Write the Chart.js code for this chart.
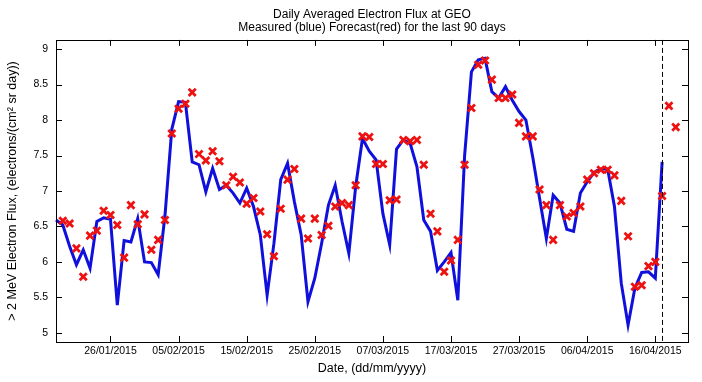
<!DOCTYPE html>
<html>
<head>
<meta charset="utf-8">
<script src="https://cdn.jsdelivr.net/npm/chart.js@4.4.0/dist/chart.umd.min.js"></script>
<style>
  html, body { margin: 0; padding: 0; background: #fff; }
</style>
</head>
<body>
<canvas id="flux" width="702" height="382"></canvas>
<script>
// day 0 = 18/01/2015, one value per day
const startDate = new Date(2015, 0, 18);

const measured = [
  6.59, 6.52, 6.22, 5.96, 6.17, 5.91, 6.57, 6.62, 6.60, 5.39,
  6.30, 6.28, 6.61, 6.00, 5.99, 5.82, 6.65, 7.87, 8.26, 8.25,
  7.41, 7.37, 6.99, 7.32, 7.02, 7.08, 6.97, 6.83, 7.04, 6.78,
  6.38, 5.53, 6.26, 7.16, 7.39, 6.85, 6.38, 5.44, 5.77, 6.26,
  6.80, 7.08, 6.57, 6.12, 7.06, 7.74, 7.56, 7.44, 6.68, 6.24,
  7.59, 7.72, 7.67, 7.34, 6.59, 6.43, 5.88, 6.00, 6.13, 5.46,
  7.50, 8.68, 8.85, 8.87, 8.40, 8.31, 8.47, 8.28, 8.12, 8.00,
  7.48, 6.90, 6.33, 6.94, 6.83, 6.46, 6.43, 6.97, 7.13, 7.26,
  7.31, 7.31, 6.78, 5.70, 5.11, 5.63, 5.85, 5.86, 5.77, 7.41
];

const forecast = [
  null, 6.58, 6.54, 6.19, 5.79, 6.37, 6.44, 6.72, 6.66, 6.52,
  6.06, 6.80, 6.53, 6.67, 6.17, 6.31, 6.59, 7.81, 8.16, 8.23,
  8.39, 7.52, 7.43, 7.56, 7.42, 7.08, 7.20, 7.12, 6.82, 6.90,
  6.71, 6.39, 6.08, 6.75, 7.16, 7.31, 6.61, 6.33, 6.61, 6.38,
  6.51, 6.78, 6.83, 6.80, 7.08, 7.77, 7.76, 7.38, 7.38, 6.87,
  6.88, 7.72, 7.70, 7.72, 7.37, 6.68, 6.43, 5.86, 6.02, 6.31,
  7.37, 8.17, 8.78, 8.84, 8.57, 8.31, 8.31, 8.36, 7.96, 7.77,
  7.77, 7.02, 6.80, 6.31, 6.80, 6.64, 6.69, 6.78, 7.16, 7.25,
  7.30, 7.30, 7.22, 6.86, 6.36, 5.65, 5.67, 5.94, 6.00, 6.93,
  8.20, 7.90
];

const tickDates = [
  '26/01/2015', '05/02/2015', '15/02/2015', '25/02/2015', '07/03/2015',
  '17/03/2015', '27/03/2015', '06/04/2015', '16/04/2015'
];
const yTicks = [5, 5.5, 6, 6.5, 7, 7.5, 8, 8.5, 9];

// last measured day, marked with a dashed line
const todayDay = measured.length - 1;

function dayOf(s) {
  const [d, m, y] = s.split('/').map(Number);
  return Math.round((new Date(y, m - 1, d) - startDate) / 86400000);
}
const tickDays = tickDates.map(dayOf);

const toPoints = arr => arr.map((v, i) => ({ x: i, y: v })).filter(p => p.y !== null);

// box frame, inward tick marks on all four sides and the "today" line
const boxAxes = {
  id: 'boxAxes',
  afterDraw(chart) {
    const { ctx, chartArea: a, scales: { x, y } } = chart;
    const len = 6;
    ctx.save();
    ctx.strokeStyle = '#000';
    ctx.lineWidth = 1;
    ctx.beginPath();
    x.ticks.forEach(t => {
      const px = Math.round(x.getPixelForValue(t.value)) + 0.5;
      ctx.moveTo(px, a.bottom); ctx.lineTo(px, a.bottom - len);
      ctx.moveTo(px, a.top); ctx.lineTo(px, a.top + len);
    });
    y.ticks.forEach(t => {
      const py = Math.round(y.getPixelForValue(t.value)) + 0.5;
      ctx.moveTo(a.left, py); ctx.lineTo(a.left + len, py);
      ctx.moveTo(a.right, py); ctx.lineTo(a.right - len, py);
    });
    ctx.stroke();
    ctx.strokeRect(Math.round(a.left) + 0.5, Math.round(a.top) + 0.5,
      Math.round(a.right - a.left), Math.round(a.bottom - a.top));

    const dx = Math.round(x.getPixelForValue(todayDay)) + 0.5;
    ctx.setLineDash([5, 3]);
    ctx.beginPath();
    ctx.moveTo(dx, a.top);
    ctx.lineTo(dx, a.bottom);
    ctx.stroke();
    ctx.restore();
  }
};

Chart.defaults.font.family = '"Liberation Sans", Arial, sans-serif';
Chart.defaults.color = '#000';

new Chart(document.getElementById('flux'), {
  type: 'line',
  data: {
    datasets: [
      {
        label: 'Forecast',
        data: toPoints(forecast),
        showLine: false,
        pointStyle: 'crossRot',
        pointRadius: 5,
        pointBorderWidth: 2.8,
        borderColor: '#ee1111',
        backgroundColor: '#ee1111',
        clip: false,
        order: 0
      },
      {
        label: 'Measured',
        data: toPoints(measured),
        borderColor: '#1010dd',
        borderWidth: 3,
        pointRadius: 0,
        tension: 0,
        clip: false,
        order: 1
      }
    ]
  },
  options: {
    responsive: false,
    animation: false,
    devicePixelRatio: 1,
    layout: { padding: { left: 0, right: 14, top: 0, bottom: 0 } },
    plugins: {
      legend: { display: false },
      tooltip: { enabled: false },
      title: {
        display: true,
        fullSize: false,
        text: ['Daily Averaged Electron Flux at GEO', 'Measured (blue) Forecast(red) for the last 90 days'],
        font: { size: 12, weight: 'normal', lineHeight: 1.08 },
        color: '#000',
        padding: { top: 8, bottom: 6 }
      }
    },
    scales: {
      x: {
        type: 'linear',
        min: 0,
        max: 92.8,
        afterBuildTicks: scale => { scale.ticks = tickDays.map(v => ({ value: v })); },
        afterFit: scale => { scale.height = 40; },
        grid: { display: false, drawTicks: false },
        border: { display: false },
        ticks: {
          autoSkip: false,
          maxRotation: 0,
          padding: 3,
          font: { size: 10.5 },
          callback: v => tickDates[tickDays.indexOf(v)]
        },
        title: {
          display: true,
          text: 'Date, (dd/mm/yyyy)',
          font: { size: 12.5 },
          padding: { top: 0, bottom: 6 }
        }
      },
      y: {
        min: 4.87,
        max: 9.13,
        afterBuildTicks: scale => { scale.ticks = yTicks.map(v => ({ value: v })); },
        afterFit: scale => { scale.width = 56; },
        grid: { display: false, drawTicks: false },
        border: { display: false },
        ticks: {
          padding: 8,
          font: { size: 10.5 },
          callback: v => String(v)
        },
        title: {
          display: true,
          text: '> 2 MeV Electron Flux, (electrons/(cm\u00b2 sr day))',
          font: { size: 12.5 },
          padding: { top: 5, bottom: 0 }
        }
      }
    }
  },
  plugins: [boxAxes]
});
</script>
</body>
</html>
